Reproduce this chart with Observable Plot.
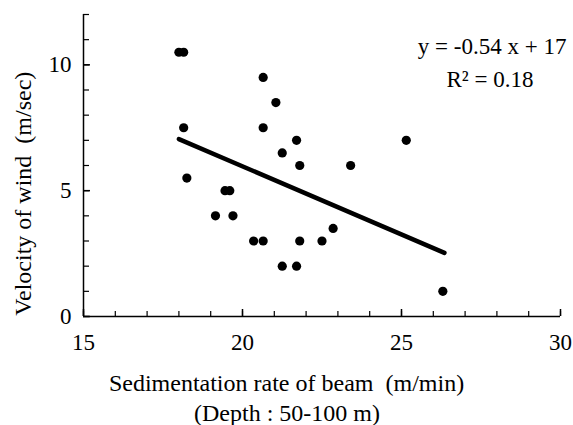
<!DOCTYPE html>
<html>
<head>
<meta charset="utf-8">
<script src="https://cdn.jsdelivr.net/npm/d3@7"></script>
<script src="https://cdn.jsdelivr.net/npm/@observablehq/plot@0.6"></script>
<style>
  html, body { margin: 0; padding: 0; background: #fff; }
  #chart svg { display: block; }
  #chart svg, #chart svg text { font-family: "Liberation Serif", "Times New Roman", serif !important; }
</style>
</head>
<body>
<div id="chart"></div>
<script>
// Data
const rate = [18.0, 18.15, 20.65, 21.05, 18.15, 20.65, 21.7, 21.25, 21.8, 18.25,
              19.45, 19.6, 19.15, 19.7, 20.35, 20.65, 21.8, 22.5, 22.85, 21.25,
              21.7, 25.15, 23.4, 26.3];
const wind = [10.5, 10.5, 9.5, 8.5, 7.5, 7.5, 7.0, 6.5, 6.0, 5.5,
              5.0, 5.0, 4.0, 4.0, 3.0, 3.0, 3.0, 3.0, 3.5, 2.0,
              2.0, 7.0, 6.0, 1.0];
const fitX = [18.0, 26.35];
const fitY = [7.05, 2.53];
const xMajor = [15, 20, 25, 30];
const xMinor = d3.range(15, 31, 1);
const yMajor = [0, 5, 10];
const yMinor = d3.range(0, 13, 1);
const xLabel = "Sedimentation rate of beam  (m/min)";
const xSub = "(Depth : 50-100 m)";
const yLabel = "Velocity of wind  (m/sec)";
const eqText = ["y = -0.54 x + 17", "R\u00B2 = 0.18"];
const eqX = [27.85, 27.78];
const eqY = [10.73, 9.40];

const points = rate.map((x, i) => ({x, y: wind[i]}));
const fit = fitX.map((x, i) => ({x, y: fitY[i]}));
const eq = eqText.map((t, i) => ({t, x: eqX[i], y: eqY[i]}));

const W = 573, H = 425, mL = 83, mR = 13, mT = 14, mB = 109;
const pw = W - mL - mR, ph = H - mT - mB;
const font = "'Liberation Serif', 'Times New Roman', serif";

const chart = Plot.plot({
  width: W, height: H,
  marginLeft: mL, marginRight: mR, marginTop: mT, marginBottom: mB,
  style: {fontFamily: font, background: "#fff", color: "#000", overflow: "visible"},
  x: {domain: [15, 30], axis: null},
  y: {domain: [0, 12], axis: null},
  marks: [
    Plot.tickX(xMinor, {x: d => d, insetTop: ph - 5, stroke: "#000", strokeWidth: 1.2}),
    Plot.tickX(xMajor, {x: d => d, insetTop: ph - 7, stroke: "#000", strokeWidth: 1.5}),
    Plot.tickY(yMinor, {y: d => d, insetRight: pw - 6, stroke: "#000", strokeWidth: 1.2}),
    Plot.tickY(yMajor, {y: d => d, insetRight: pw - 7, stroke: "#000", strokeWidth: 1.5}),
    Plot.ruleX([15], {stroke: "#000", strokeWidth: 1.5}),
    Plot.ruleY([0], {stroke: "#000", strokeWidth: 1.5}),
    Plot.text(xMajor, {x: d => d, y: 0, dy: 26, text: d => String(d), fontSize: 23, fontFamily: font, lineAnchor: "middle", fill: "#000"}),
    Plot.text(yMajor, {x: 15, y: d => d, dx: -12, text: d => String(d), fontSize: 23, fontFamily: font, textAnchor: "end", lineAnchor: "middle", fill: "#000"}),
    Plot.text([xLabel], {frameAnchor: "bottom", dx: -35.5, dy: 67, fontSize: 24, fontFamily: font, lineAnchor: "middle", fill: "#000"}),
    Plot.text([xSub], {frameAnchor: "bottom", dx: -35, dy: 97, fontSize: 24, fontFamily: font, lineAnchor: "middle", fill: "#000"}),
    Plot.text([yLabel], {x: 13.1, y: 4.88, rotate: -90, fontSize: 24, fontFamily: font, lineAnchor: "middle", fill: "#000"}),
    Plot.line(fit, {x: "x", y: "y", stroke: "#000", strokeWidth: 4.5, strokeLinecap: "round"}),
    Plot.dot(points, {x: "x", y: "y", r: 4.6, fill: "#000", stroke: "none"}),
    Plot.text(eq, {x: "x", y: "y", text: "t", fontSize: 23, fontFamily: font, lineAnchor: "middle", fill: "#000"})
  ]
});
document.getElementById("chart").appendChild(chart);
</script>
</body>
</html>
